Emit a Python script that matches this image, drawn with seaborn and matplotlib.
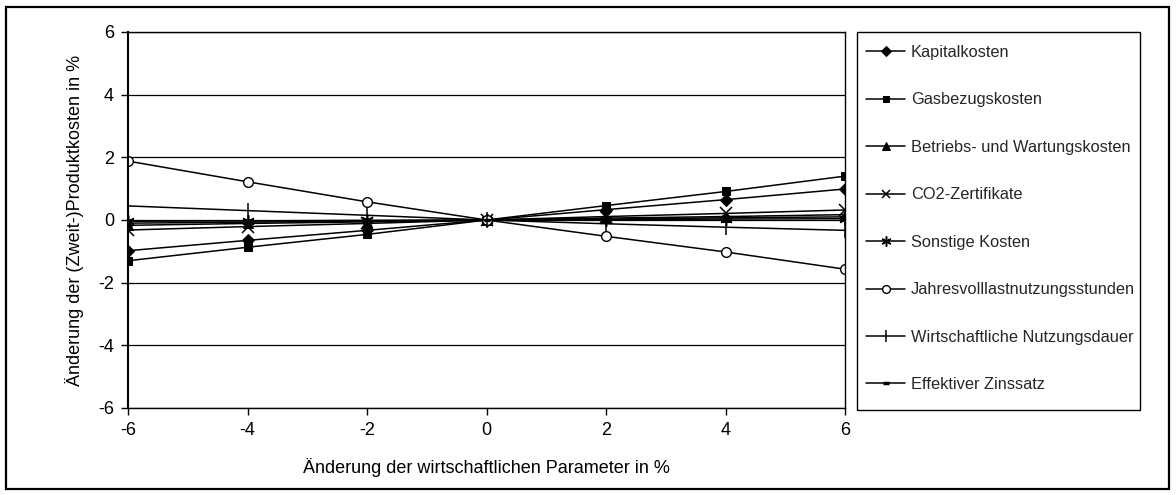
import matplotlib
matplotlib.use("Agg")
import matplotlib.pyplot as plt
import seaborn as sns
import pandas as pd
from matplotlib.patches import Rectangle

# Sensitivity of the (by-)product costs to economic parameters
param_change = [-6, -4, -2, 0, 2, 4, 6]

kapitalkosten = [-0.98, -0.65, -0.33, 0.0, 0.33, 0.65, 0.99]
gasbezugskosten = [-1.30, -0.87, -0.46, 0.0, 0.46, 0.91, 1.40]
betriebskosten = [-0.17, -0.11, -0.06, 0.0, 0.06, 0.11, 0.17]
co2_zertifikate = [-0.32, -0.21, -0.11, 0.0, 0.11, 0.21, 0.32]
sonstige_kosten = [-0.04, -0.03, -0.01, 0.0, 0.01, 0.03, 0.04]
jahresvolllast = [1.88, 1.22, 0.58, 0.0, -0.52, -1.02, -1.57]
nutzungsdauer = [0.45, 0.30, 0.15, 0.0, -0.12, -0.23, -0.33]
zinssatz = [-0.10, -0.07, -0.03, 0.0, 0.03, 0.07, 0.10]

series_names = [
    "Kapitalkosten",
    "Gasbezugskosten",
    "Betriebs- und Wartungskosten",
    "CO2-Zertifikate",
    "Sonstige Kosten",
    "Jahresvolllastnutzungsstunden",
    "Wirtschaftliche Nutzungsdauer",
    "Effektiver Zinssatz",
]
series_values = [
    kapitalkosten, gasbezugskosten, betriebskosten, co2_zertifikate,
    sonstige_kosten, jahresvolllast, nutzungsdauer, zinssatz,
]

y_ticks = [-6, -4, -2, 0, 2, 4, 6]
x_ticks = [-6, -4, -2, 0, 2, 4, 6]

rows = []
for name, vals in zip(series_names, series_values):
    for x, y in zip(param_change, vals):
        rows.append({"Parameter": x, "Kosten": y, "Reihe": name})
df = pd.DataFrame(rows)

sns.set_theme(style="white")
plt.rcParams["font.family"] = ["Liberation Sans", "DejaVu Sans"]

marker_styles = {
    "Kapitalkosten": dict(marker="D", markersize=6, markerfacecolor="black"),
    "Gasbezugskosten": dict(marker="s", markersize=6, markerfacecolor="black"),
    "Betriebs- und Wartungskosten": dict(marker="^", markersize=7, markerfacecolor="black"),
    "CO2-Zertifikate": dict(marker="x", markersize=8, markeredgewidth=1.1),
    "Sonstige Kosten": dict(marker=(6, 2, 0), markersize=9, markeredgewidth=1.1),
    "Jahresvolllastnutzungsstunden": dict(marker="o", markersize=7, markerfacecolor="white",
                                           markeredgewidth=1.0),
    "Wirtschaftliche Nutzungsdauer": dict(marker="|", markersize=11, markeredgewidth=1.1),
    "Effektiver Zinssatz": dict(marker="_", markersize=5, markeredgewidth=2.5),
}

W, H = 1176, 495
fig = plt.figure(figsize=(W / 100, H / 100), dpi=100)
ax = fig.add_axes([128 / W, 1 - 408 / H, (845 - 128) / W, (408 - 32) / H])

for name in series_names:
    sub = df[df["Reihe"] == name]
    sns.lineplot(data=sub, x="Parameter", y="Kosten", ax=ax, color="black",
                 linewidth=1.1, label=name, markeredgecolor="black",
                 **marker_styles[name])

ax.set_xlim(-6, 6)
ax.set_ylim(-6, 6)
ax.set_xticks(x_ticks)
ax.set_yticks(y_ticks)
ax.set_xticklabels([str(t) for t in x_ticks])
ax.set_yticklabels([str(t) for t in y_ticks])
ax.tick_params(axis="both", labelsize=13, colors="black", direction="out",
               length=5, width=1, bottom=True, left=True, pad=5)
ax.yaxis.grid(True, color="black", linewidth=0.9)
ax.xaxis.grid(False)
ax.set_axisbelow(True)
for side in ["left", "right", "top", "bottom"]:
    ax.spines[side].set_color("black")
    ax.spines[side].set_linewidth(1.0)
ax.spines["left"].set_linewidth(1.5)

ax.set_xlabel("Änderung der wirtschaftlichen Parameter in %", fontsize=13,
              color="black", labelpad=14)
ax.set_ylabel("Änderung der (Zweit-)Produktkosten in %", fontsize=13,
              color="black", labelpad=10)

ax.get_legend().remove()
handles, labels = ax.get_legend_handles_labels()
leg = fig.legend(
    handles, labels,
    loc="upper left",
    bbox_to_anchor=(866 / W, 1 - 45 / H),
    frameon=False,
    fontsize=11.8,
    labelspacing=1.98,
    handlelength=2.4,
    handletextpad=0.35,
    markerscale=0.8,
    borderpad=0.0,
    borderaxespad=0.0,
)

# Legend box
fig.patches.append(Rectangle((857 / W, 1 - 410 / H), (1140 - 857) / W, (410 - 32) / H,
                             transform=fig.transFigure, fill=False,
                             edgecolor="black", linewidth=1.0))

# Frame around the whole figure
fig.patches.append(Rectangle((6 / W, 6 / H), 1 - 13 / W, 1 - 13 / H,
                             transform=fig.transFigure, fill=False,
                             edgecolor="black", linewidth=1.6))

fig.savefig("out.png", dpi=100)
